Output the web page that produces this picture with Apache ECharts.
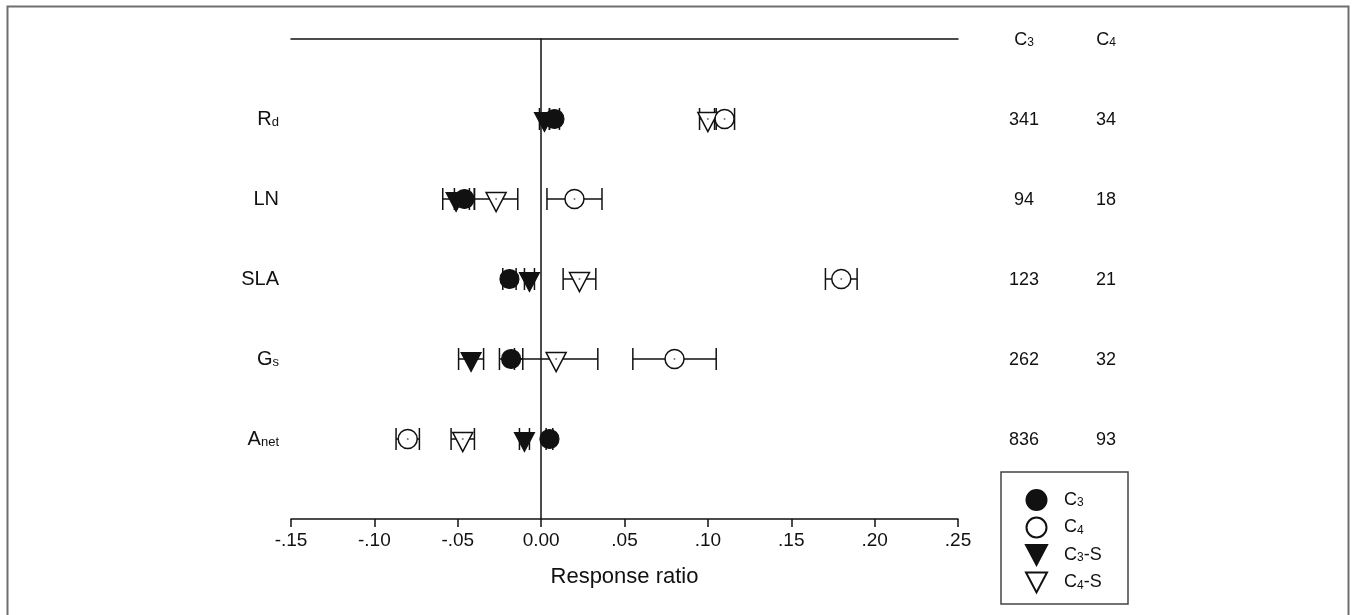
<!DOCTYPE html>
<html>
<head>
<meta charset="utf-8">
<script src="https://cdn.jsdelivr.net/npm/echarts@6/dist/echarts.min.js"></script>
<style>
  html, body { margin: 0; padding: 0; background: #fff; }
  #chart { width: 1357px; height: 615px; }
</style>
</head>
<body>
<div id="chart"></div>
<script>
// Traits, listed bottom-to-top (row 1 = bottom)
const traits = ['Anet', 'Gs', 'SLA', 'LN', 'Rd'];
const traitLabels = ['A{s|net}', 'G{s|s}', 'SLA', 'LN', 'R{s|d}'];

// Mean response ratios and half-widths of the 95% CI, per group
const c3Mean  = [0.005, -0.018, -0.019, -0.046, 0.008];
const c3Err   = [0.002,  0.007,  0.004,  0.006, 0.003];
const c4Mean  = [-0.080, 0.080, 0.180, 0.020, 0.110];
const c4Err   = [0.007,  0.025, 0.0095, 0.0165, 0.006];
const c3sMean = [-0.010, -0.042, -0.007, -0.051, 0.002];
const c3sErr  = [0.003,   0.0075, 0.003,  0.008, 0.003];
const c4sMean = [-0.047, 0.009, 0.023, -0.027, 0.100];
const c4sErr  = [0.007,  0.025, 0.0098, 0.013, 0.005];

// Number of observations per trait
const countHeads = ['C{s|3}', 'C{s|4}'];
const nC3 = [836, 262, 123, 94, 341];
const nC4 = [93, 32, 21, 18, 34];

// x-axis tick labels from -0.15 to 0.25 in steps of 0.05
const xTickLabels = ['-.15', '-.10', '-.05', '0.00', '.05', '.10', '.15', '.20', '.25'];
const xMin = -0.15, xMax = 0.25, xStep = 0.05;

const FONT = 'Liberation Sans, Arial, Helvetica, sans-serif';
const INK = '#111';
const DOWN_TRI = 'path://M0,0 L10,0 L5,9.5 Z';

function rows(means) {
  return means.map((m, i) => [m, i + 1]);
}
function errRows(means, errs) {
  return means.map((m, i) => [m - errs[i], m + errs[i], i + 1]);
}

function errorBarSeries(name, means, errs) {
  return {
    name: name + ' CI',
    type: 'custom',
    z: 2,
    silent: true,
    encode: { x: [0, 1], y: 2 },
    data: errRows(means, errs),
    renderItem: function (params, api) {
      const row = api.value(2);
      const p1 = api.coord([api.value(0), row]);
      const p2 = api.coord([api.value(1), row]);
      const y = p1[1];
      const cap = 11;
      const st = { stroke: INK, lineWidth: 1.5, fill: null };
      return {
        type: 'group',
        children: [
          { type: 'line', shape: { x1: p1[0], y1: y, x2: p2[0], y2: y }, style: st },
          { type: 'line', shape: { x1: p1[0], y1: y - cap, x2: p1[0], y2: y + cap }, style: st },
          { type: 'line', shape: { x1: p2[0], y1: y - cap, x2: p2[0], y2: y + cap }, style: st }
        ]
      };
    }
  };
}

function markerSeries(name, means, symbol, size, filled, offset) {
  return {
    name: name,
    type: 'scatter',
    z: 3,
    symbol: symbol,
    symbolSize: size,
    symbolOffset: offset || [0, 0],
    data: rows(means),
    itemStyle: filled
      ? { color: '#111', borderColor: '#111', borderWidth: 1.2, opacity: 1 }
      : { color: '#fff', borderColor: '#111', borderWidth: 1.5, opacity: 1 },
    emphasis: { disabled: true }
  };
}

// small centre dot drawn inside the open markers
function dotSeries(means, offset) {
  return {
    type: 'scatter', z: 4, silent: true,
    symbol: 'circle', symbolSize: 2, symbolOffset: offset || [0, 0],
    data: rows(means),
    itemStyle: { color: '#555' },
    emphasis: { disabled: true }
  };
}

// Count table: header row at the top line (value 6), counts at each trait row
const countData = [];
countHeads.forEach((h, c) => countData.push([c, 6, h]));
nC3.forEach((n, i) => countData.push([0, i + 1, String(n)]));
nC4.forEach((n, i) => countData.push([1, i + 1, String(n)]));

const chart = echarts.init(document.getElementById('chart'), null, { renderer: 'canvas' });

chart.setOption({
  backgroundColor: '#fff',
  animation: false,
  textStyle: { fontFamily: FONT },
  grid: [
    { left: 291, right: 399, top: 39, bottom: 96, containLabel: false },
    { left: 983, width: 164, top: 39, bottom: 96, containLabel: false }
  ],
  xAxis: [
    {
      type: 'value', gridIndex: 0, position: 'bottom',
      min: xMin, max: xMax, interval: xStep,
      axisLine: { show: true, onZero: false, lineStyle: { color: INK, width: 1.5 } },
      axisTick: { show: true, inside: false, length: 8, lineStyle: { color: INK, width: 1.5 } },
      axisLabel: {
        margin: 12, fontSize: 19, color: INK, fontFamily: FONT,
        formatter: v => xTickLabels[Math.round((v - xMin) / xStep)]
      },
      splitLine: { show: false },
      name: 'Response ratio', nameLocation: 'middle', nameGap: 47,
      nameTextStyle: { fontSize: 22, color: INK, fontFamily: FONT }
    },
    {
      type: 'value', gridIndex: 0, position: 'top',
      min: xMin, max: xMax, interval: xStep,
      axisLine: { show: true, onZero: false, lineStyle: { color: INK, width: 1.5 } },
      axisTick: { show: false }, axisLabel: { show: false }, splitLine: { show: false }
    },
    {
      type: 'category', gridIndex: 1, data: ['C3', 'C4'],
      show: false
    }
  ],
  yAxis: [
    {
      type: 'value', gridIndex: 0, position: 'left',
      min: 0, max: 6, interval: 1,
      axisLine: { show: false }, axisTick: { show: false }, splitLine: { show: false },
      axisLabel: {
        margin: 12, fontSize: 20, color: INK, fontFamily: FONT,
        formatter: v => (v >= 1 && v <= 5) ? traitLabels[v - 1] : '',
        rich: { s: { fontFamily: FONT, fontSize: 13, color: INK, verticalAlign: 'bottom', lineHeight: 20 } }
      }
    },
    {
      type: 'value', gridIndex: 0, position: 'right',
      min: 0, max: 6, interval: 1,
      axisLine: { show: true, onZero: true, onZeroAxisIndex: 0, lineStyle: { color: INK, width: 1.5 } },
      axisTick: { show: false }, axisLabel: { show: false }, splitLine: { show: false }
    },
    {
      type: 'value', gridIndex: 1, min: 0, max: 6, show: false
    }
  ],
  legend: {
    orient: 'vertical',
    left: 1025, top: 489,
    padding: 0,
    itemWidth: 21, itemHeight: 20, itemGap: 5.5,
    data: ['C3', 'C4', 'C3-S', 'C4-S'],
    formatter: name => name.replace(/C(\d)/, 'C{s|$1}'),
    textStyle: {
      fontFamily: FONT, fontSize: 18, color: INK, padding: [0, 0, 0, 12],
      rich: { s: { fontFamily: FONT, fontSize: 12, color: INK, verticalAlign: 'bottom', lineHeight: 18 } }
    },
    selectedMode: false
  },
  graphic: [
    // outer frame
    { type: 'rect', silent: true, shape: { x: 7.5, y: 6.5, width: 1341, height: 620 },
      style: { fill: null, stroke: '#6e6e6e', lineWidth: 2 } },
    // legend box
    { type: 'rect', silent: true, shape: { x: 1001, y: 472, width: 127, height: 132 },
      style: { fill: null, stroke: '#444', lineWidth: 1.5 } }
  ],
  series: [
    errorBarSeries('C3', c3Mean, c3Err),
    errorBarSeries('C3-S', c3sMean, c3sErr),
    errorBarSeries('C4-S', c4sMean, c4sErr),
    errorBarSeries('C4', c4Mean, c4Err),
    markerSeries('C4-S', c4sMean, DOWN_TRI, [20, 19], false, [0, 3]),
    dotSeries(c4sMean, [0, 0]),
    markerSeries('C4', c4Mean, 'circle', 19, false),
    dotSeries(c4Mean),
    markerSeries('C3-S', c3sMean, DOWN_TRI, [20, 19], true, [0, 3]),
    markerSeries('C3', c3Mean, 'circle', 19, true),
    {
      name: 'n',
      type: 'custom',
      xAxisIndex: 2, yAxisIndex: 2,
      silent: true,
      encode: { x: 0, y: 1 },
      data: countData,
      renderItem: function (params, api) {
        const p = api.coord([api.value(0), api.value(1)]);
        return {
          type: 'text',
          x: p[0], y: p[1] + 1,
          style: {
            text: countData[params.dataIndex][2],
            fontFamily: FONT, fontSize: 18, fill: INK,
            align: 'center', verticalAlign: 'middle',
            rich: { s: { fontFamily: FONT, fontSize: 12, fill: INK, verticalAlign: 'bottom', lineHeight: 18 } }
          }
        };
      }
    }
  ]
});
</script>
</body>
</html>
